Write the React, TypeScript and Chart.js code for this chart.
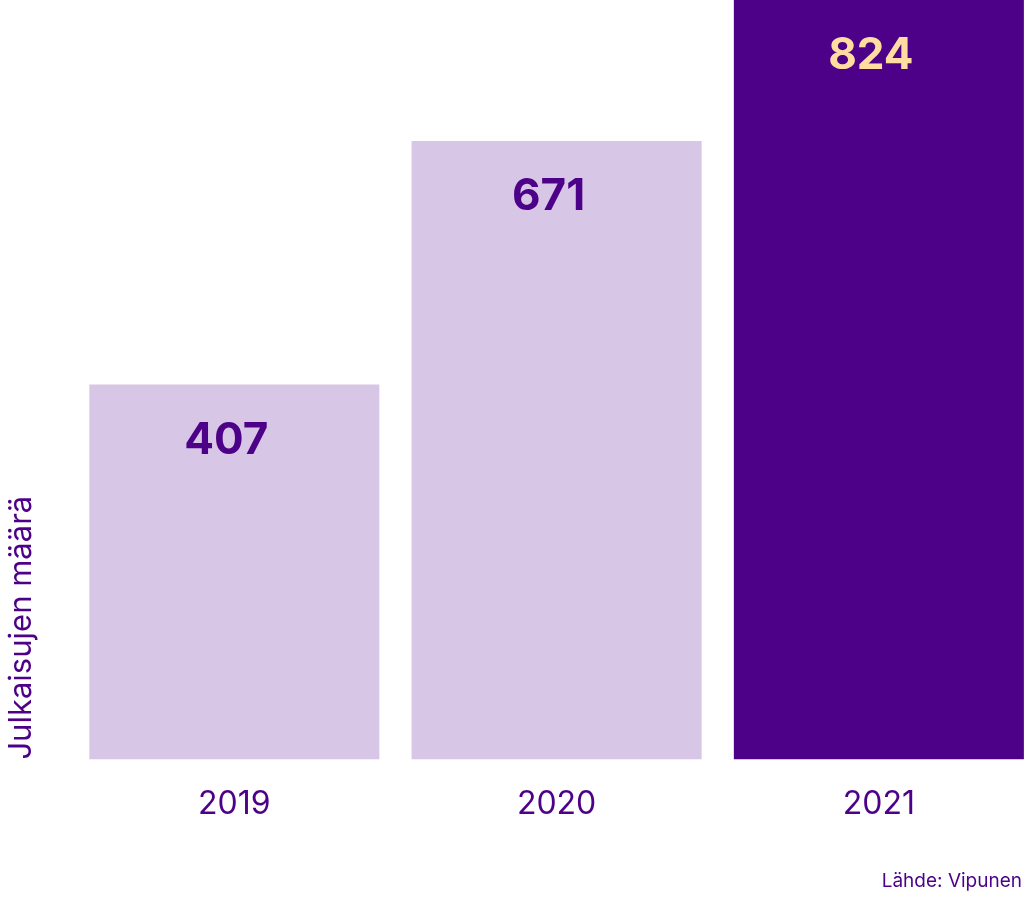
import React, { useEffect, useRef } from "react";
import { Chart, registerables } from "chart.js";

Chart.register(...registerables);

const categories = ["2019", "2020", "2021"];
const values = [407, 671, 824];
const barColors = ["#D8C6E6", "#D8C6E6", "#4D0088"];
const labelColors = ["#4D0088", "#4D0088", "#FFDDA0"];
const yTitle = "Julkaisujen määrä";
const source = "Lähde: Vipunen";

const PURPLE = "#4D0088";

const valueLabels = {
  id: "valueLabels",
  afterDatasetsDraw(chart: any) {
    const ctx = chart.ctx;
    const meta = chart.getDatasetMeta(0);
    ctx.save();
    ctx.font = "bold 44px Inter";
    ctx.textAlign = "center";
    ctx.textBaseline = "middle";
    meta.data.forEach((bar: any, i: number) => {
      ctx.fillStyle = labelColors[i];
      ctx.fillText(String(values[i]), bar.x - 8, bar.y + 56);
    });
    ctx.restore();
  },
};

export default function App() {
  const ref = useRef<HTMLCanvasElement | null>(null);
  useEffect(() => {
    if (!ref.current) return;
    const chart = new Chart(ref.current, {
      type: "bar",
      data: {
        labels: categories,
        datasets: [
          {
            data: values,
            backgroundColor: barColors,
            borderWidth: 0,
            barPercentage: 1,
            categoryPercentage: 0.9,
          },
        ],
      },
      options: {
        responsive: true,
        maintainAspectRatio: false,
        animation: false,
        layout: { padding: { left: 0, right: 0, top: 0, bottom: 47 } },
        plugins: {
          legend: { display: false },
          tooltip: { enabled: false },
        },
        scales: {
          x: {
            grid: { display: false, drawTicks: false, tickLength: 0 },
            border: { display: false },
            ticks: {
              color: PURPLE,
              font: { family: "Inter", size: 32 },
              padding: 26,
              maxRotation: 0,
            },
          },
          y: {
            min: 0,
            max: 824,
            grid: { display: false, drawTicks: false, tickLength: 0 },
            border: { display: false },
            ticks: { display: false },
            title: {
              display: true,
              text: yTitle,
              align: "start",
              color: PURPLE,
              font: { family: "Inter", size: 31 },
              padding: { top: 3, bottom: 33 },
            },
          },
        },
      },
      plugins: [valueLabels],
    });
    return () => chart.destroy();
  }, []);

  return (
    <div
      style={{
        position: "fixed",
        left: 0,
        top: 0,
        width: 1024,
        height: 897,
        overflow: "hidden",
        background: "#ffffff",
      }}
    >
      <div style={{ position: "absolute", left: 0, top: 0, width: 1040, height: 897 }}>
        <canvas ref={ref} />
      </div>
      <div
        style={{
          position: "absolute",
          right: 2,
          top: 869,
          color: PURPLE,
          fontFamily: "Inter",
          fontSize: 19,
          lineHeight: "24px",
          whiteSpace: "nowrap",
        }}
      >
        {source}
      </div>
    </div>
  );
}
